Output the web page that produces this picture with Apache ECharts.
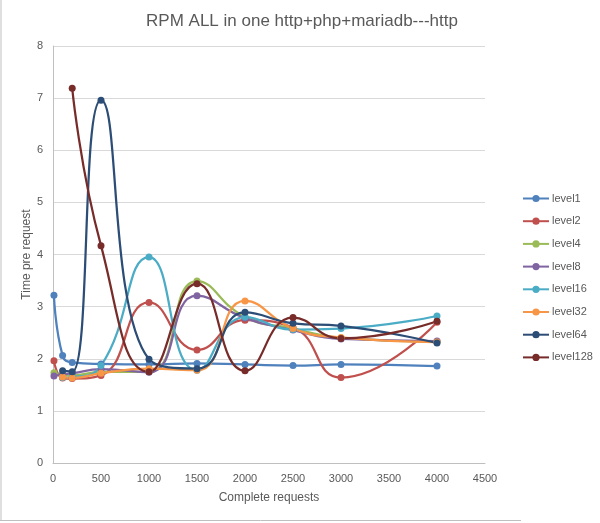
<!DOCTYPE html>
<html>
<head>
<meta charset="utf-8">
<script src="https://cdn.jsdelivr.net/npm/echarts@6/dist/echarts.min.js"></script>
<style>html,body{margin:0;padding:0;background:#fff;}#c{width:600px;height:523px;}</style>
</head>
<body>
<div id="c"></div>
<script>
// x positions (Complete requests)
const xFrom10 = [10, 100, 200, 500, 1000, 1500, 2000, 2500, 3000, 4000];
const xFrom100 = [100, 200, 500, 1000, 1500, 2000, 2500, 3000, 4000];
const xFrom200 = [200, 500, 1000, 1500, 2000, 2500, 3000, 4000];

// Time per request
const level1 = [3.22, 2.06, 1.93, 1.90, 1.89, 1.91, 1.89, 1.87, 1.89, 1.86];
const level2 = [1.96, 1.63, 1.62, 1.68, 3.08, 2.17, 2.74, 2.60, 1.64, 2.70];
const level4 = [1.73, 1.68, 1.68, 1.75, 1.75, 3.49, 2.80, 2.58, 2.40, 2.33];
const level8 = [1.67, 1.70, 1.72, 1.80, 1.74, 3.21, 2.78, 2.55, 2.38, 2.34];
const level16 = [1.64, 1.65, 1.87, 3.95, 1.78, 2.80, 2.56, 2.58, 2.82];
const level32 = [1.65, 1.63, 1.72, 1.81, 1.78, 3.11, 2.58, 2.41, 2.32];
const level64 = [1.77, 1.75, 6.96, 1.99, 1.81, 2.89, 2.68, 2.63, 2.30];
const level128 = [7.19, 4.17, 1.75, 3.44, 1.77, 2.79, 2.39, 2.72];

const seriesNames = ['level1','level2','level4','level8','level16','level32','level64','level128'];
const seriesX = [xFrom10, xFrom10, xFrom10, xFrom10, xFrom100, xFrom100, xFrom100, xFrom200];
const seriesY = [level1, level2, level4, level8, level16, level32, level64, level128];
const colors = ['#4F81BD','#C0504D','#9BBB59','#8064A2','#4BACC6','#F79646','#2C4D75','#772C2A'];

const chart = echarts.init(document.getElementById('c'));
const font = 'Liberation Sans, Arial, sans-serif';
chart.setOption({
  animation: false,
  color: colors,
  title: {
    text: 'RPM ALL in one http+php+mariadb---http',
    left: 297, textAlign: 'center', top: 8,
    textStyle: { fontFamily: font, fontSize: 17, fontWeight: 'normal', color: '#595959' }
  },
  legend: {
    orient: 'vertical', left: 517, top: 188, itemGap: 11.7,
    itemWidth: 26, itemHeight: 9,
    textStyle: { fontFamily: font, fontSize: 11, color: '#595959', padding: [0,0,0,-2] },
    data: seriesNames
  },
  grid: { left: 53, right: 115, top: 46, bottom: 60, containLabel: false },
  xAxis: {
    type: 'value', min: 0, max: 4500, interval: 500,
    name: 'Complete requests', nameLocation: 'middle', nameGap: 29, nameMoveOverlap: false,
    nameTextStyle: { fontFamily: font, fontSize: 12, color: '#595959' },
    axisLine: { show: true, lineStyle: { color: '#BFBFBF', width: 1 } },
    axisTick: { show: false },
    axisLabel: { fontFamily: font, fontSize: 11, color: '#595959', margin: 10, formatter: v => String(v) },
    splitLine: { show: false }
  },
  yAxis: {
    type: 'value', min: 0, max: 8, interval: 1,
    name: 'Time pre request', nameLocation: 'middle', nameGap: 20, nameMoveOverlap: false,
    nameTextStyle: { fontFamily: font, fontSize: 12, color: '#595959' },
    axisLine: { show: true, lineStyle: { color: '#BFBFBF', width: 1 } },
    axisTick: { show: false },
    axisLabel: { fontFamily: font, fontSize: 11, color: '#595959', margin: 10 },
    splitLine: { show: true, lineStyle: { color: '#D9D9D9', width: 1 } }
  },
  graphic: [
    { type: 'line', shape: { x1: 1, y1: 0, x2: 1, y2: 520 }, style: { stroke: '#BFBFBF', lineWidth: 1 } },
    { type: 'line', shape: { x1: 0, y1: 520.5, x2: 521, y2: 520.5 }, style: { stroke: '#BFBFBF', lineWidth: 1 } }
  ],
  series: seriesNames.map((n, i) => ({
    name: n, type: 'line', smooth: 0.5,
    symbol: 'circle', symbolSize: 7,
    lineStyle: { width: 2.25 },
    data: seriesX[i].map((x, j) => [x, seriesY[i][j]])
  }))
});
</script>
</body>
</html>
